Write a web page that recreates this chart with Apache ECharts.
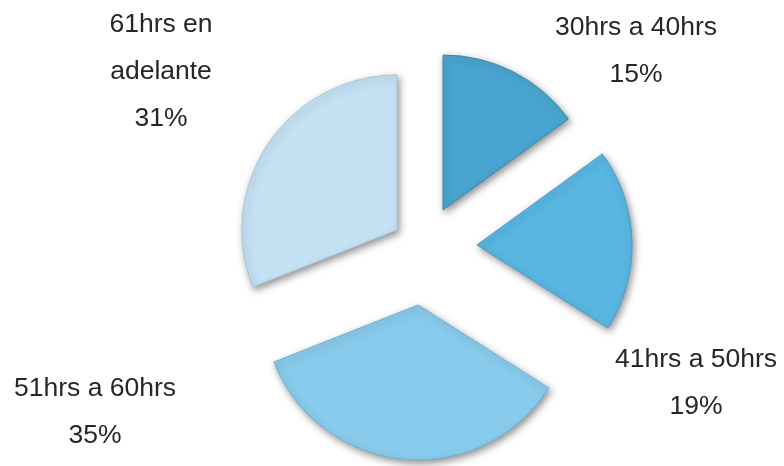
<!DOCTYPE html>
<html>
<head>
<meta charset="utf-8">
<script src="https://cdn.jsdelivr.net/npm/echarts@6/dist/echarts.min.js"></script>
<style>
  html, body { margin: 0; padding: 0; background: #ffffff; }
  #chart { width: 784px; height: 466px; }
</style>
</head>
<body>
<div id="chart"></div>
<script>
// Weekly working hours, share of respondents
const categories = ['30hrs a 40hrs', '41hrs a 50hrs', '51hrs a 60hrs', '61hrs en\nadelante'];
const shares = [15, 19, 35, 31];

// Styling and layout (exploded slices, each with its own pull-out position)
const sliceColors = ['#49a5cf', '#58b6e1', '#88cbed', '#c4e2f4'];
const sliceBorders = ['#3589b1', '#459fca', '#6fb3d6', '#a6c7db'];
const sliceCenters = [[443, 210], [477, 245], [418, 305], [397, 230]];
const labelAnchors = [[636, 51], [696, 383], [95, 412], [161, 72]];
const pieRadius = 155;

const chart = echarts.init(document.getElementById('chart'), null, { renderer: 'canvas' });

const series = categories.map((_, i) => ({
  type: 'pie',
  silent: true,
  center: sliceCenters[i],
  radius: [0, pieRadius],
  startAngle: 90,
  clockwise: true,
  animation: false,
  avoidLabelOverlap: false,
  labelLine: { show: false },
  data: categories.map((name, j) => ({
    name: name,
    value: shares[j],
    itemStyle: j === i ? {
      color: sliceColors[j],
      borderColor: sliceBorders[j],
      borderWidth: 1,
      shadowBlur: 7,
      shadowColor: 'rgba(60,60,60,0.55)',
      shadowOffsetX: 2,
      shadowOffsetY: 3
    } : { color: 'rgba(0,0,0,0)', borderWidth: 0 },
    label: { show: j === i }
  })),
  label: {
    position: 'outside',
    formatter: p => p.name + '\n' + p.value + '%',
    fontFamily: '"Liberation Sans", Arial, sans-serif',
    fontSize: 26.5,
    lineHeight: 47,
    color: '#262626',
    align: 'center'
  },
  labelLayout: () => ({
    x: labelAnchors[i][0],
    y: labelAnchors[i][1],
    align: 'center',
    verticalAlign: 'middle'
  })
}));

chart.setOption({
  backgroundColor: '#ffffff',
  animation: false,
  series: series
});
</script>
</body>
</html>
